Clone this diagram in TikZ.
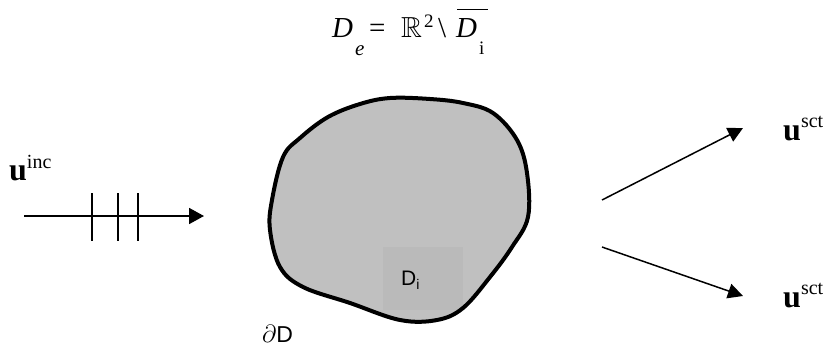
\documentclass[tikz,border=0pt]{standalone}
\usepackage{amssymb}
\usepackage{fontspec}
\setmainfont{Liberation Serif}
\newfontfamily\arialf{Liberation Sans}
\usetikzlibrary{arrows.meta}
\definecolor{blobgray}{RGB}{192,192,192}
\definecolor{rectgray}{RGB}{186,186,186}
\newcommand{\placeat}[2]{\makebox[0pt][l]{\hspace{#1}#2}}
\begin{document}
\begin{tikzpicture}[x=1pt,y=-1pt,
  formula/.style={font=\fontsize{29}{30}\selectfont, inner sep=0pt},
  wavelabel/.style={font=\fontsize{32}{33}\selectfont\bfseries, inner sep=0pt},
  sanslabel/.style={font=\arialf\fontsize{21}{24}\selectfont, inner sep=0pt},
  incarrow/.style={line width=1.8pt,-{Triangle[length=15pt,width=16pt]}},
  sctarrow/.style={line width=1.5pt,-{Triangle[length=15pt,width=15pt]}},
  tickline/.style={line width=1.6pt},
  outline/.style={line width=4pt, line join=round}]
\useasboundingbox (0,0) rectangle (827,354);
\fill[white] (0,0) rectangle (827,354);

% obstacle
\def\blobpts{(360,104) (390,98) (430,99) (463,103) (493,113) (517,140) (527,173)
  (528,217) (512,247) (490,277) (463,308) (437,320) (400,320) (350,303)
  (303,287) (280,267) (270,230) (272,200) (283,157) (300,138) (328,117)}
\fill[blobgray] plot[smooth cycle, tension=0.6] coordinates {\blobpts};
\fill[rectgray] (383,247) rectangle (463,310);
\draw[outline] plot[smooth cycle, tension=0.6] coordinates {\blobpts};

% labels
\node[formula, anchor=base west] (fml) at (332,37)
  {\placeat{0pt}{\textit{D}}%
   \placeat{23pt}{\raisebox{-18pt}{\fontsize{21}{21}\selectfont\textit{e}}}%
   \placeat{37pt}{=}%
   \placeat{69pt}{$\mathbb{R}$}%
   \placeat{92pt}{\raisebox{10pt}{\fontsize{19}{19}\selectfont 2}}%
   \placeat{106pt}{\textbackslash}%
   \placeat{125pt}{\raisebox{27pt}{\rule{31pt}{1.3pt}}}%
   \placeat{124pt}{\textit{D}}%
   \placeat{147pt}{\raisebox{-17pt}{\fontsize{19}{19}\selectfont i}}%
   \hspace{156pt}\strut};
\node[sanslabel, anchor=base west] (di) at (401,285)
  {D\raisebox{-4pt}{\fontsize{14}{14}\selectfont i}};
\node[sanslabel, anchor=base west, font=\arialf\fontsize{23}{24}\selectfont] (dD) at (262,342)
  {$\partial$D};
\node[wavelabel, anchor=base west] (uinc) at (9,180)
  {u\raisebox{12pt}{\fontsize{20}{20}\selectfont\mdseries inc}};
\node[wavelabel, anchor=base west] (usct1) at (783,140)
  {u\raisebox{13pt}{\fontsize{20}{20}\selectfont\mdseries sct}};
\node[wavelabel, anchor=base west] (usct2) at (783,307)
  {u\raisebox{13pt}{\fontsize{20}{20}\selectfont\mdseries sct}};

% incident wave
\coordinate (inS) at (24,216);
\coordinate (inE) at (204,216);
\draw[incarrow] (inS) -- (inE);
\coordinate (t1a) at (92,193);  \coordinate (t1b) at (92,241);
\coordinate (t2a) at (118,193); \coordinate (t2b) at (118,241);
\coordinate (t3a) at (138,193); \coordinate (t3b) at (138,241);
\draw[tickline] (t1a) -- (t1b);
\draw[tickline] (t2a) -- (t2b);
\draw[tickline] (t3a) -- (t3b);

% scattered waves
\coordinate (s1S) at (602,200);
\coordinate (s1E) at (743,128);
\coordinate (s2S) at (602,247);
\coordinate (s2E) at (743,296);
\draw[sctarrow] (s1S) -- (s1E);
\draw[sctarrow] (s2S) -- (s2E);
\end{tikzpicture}
\end{document}
